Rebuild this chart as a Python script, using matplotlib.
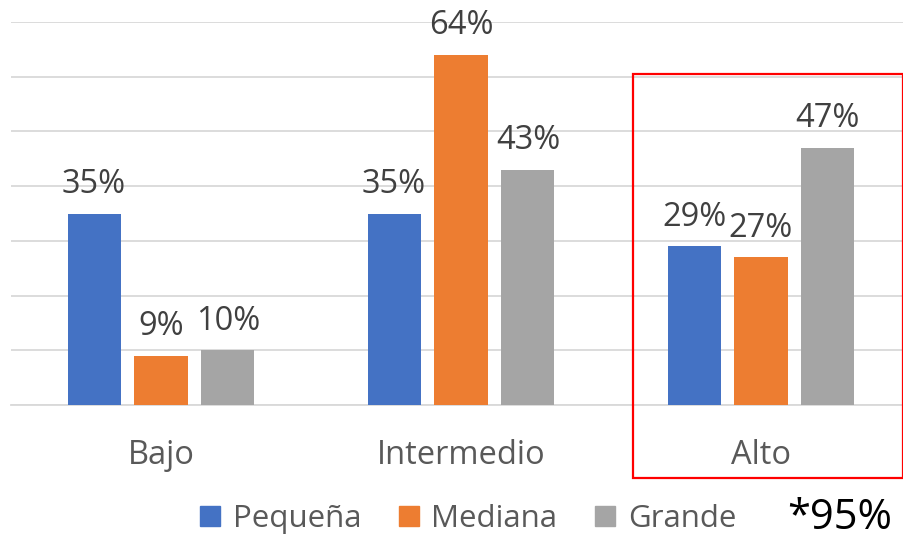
import numpy as np
import matplotlib
matplotlib.use("Agg")
import matplotlib.pyplot as plt
from matplotlib.patches import Rectangle, Patch

# datos
categorias = ["Bajo", "Intermedio", "Alto"]
series = ["Pequeña", "Mediana", "Grande"]
pequena = [35, 35, 29]
mediana = [9, 64, 27]
grande = [10, 43, 47]
colores = ["#4472C4", "#ED7D31", "#A5A5A5"]

plt.rcParams["font.family"] = ["Open Sans", "DejaVu Sans"]

W, H = 904, 540
fig = plt.figure(figsize=(W / 100, H / 100), dpi=100, facecolor="white")
# el área de trazado sobresale un poco por la derecha, como en el original
ax = fig.add_axes([11 / W, 135 / H, 900 / W, 383 / H])

x = np.arange(len(categorias))
ancho = 0.177
paso = 0.223
for i, (nombre, vals, col) in enumerate(zip(series, [pequena, mediana, grande], colores)):
    pos = x + (i - 1) * paso
    bars = ax.bar(pos, vals, ancho, color=col, zorder=3, label=nombre)
    for b, v in zip(bars, vals):
        ax.annotate(f"{v}%", (b.get_x() + b.get_width() / 2, v),
                    xytext=(0, 9), textcoords="offset points",
                    ha="center", va="bottom", fontsize=23.5, color="#404040")

ax.set_xlim(-0.5, 2.5)
ax.set_ylim(0, 70)
ax.set_yticks(np.arange(0, 71, 10))
ax.yaxis.grid(True, color="#D9D9D9", linewidth=1.3, zorder=0)
ax.tick_params(axis="y", left=False, labelleft=False)
ax.tick_params(axis="x", bottom=False, labelsize=23.5, labelcolor="#595959", pad=21)
ax.set_xticks(x)
ax.set_xticklabels(categorias)
for s in ["top", "right", "left"]:
    ax.spines[s].set_visible(False)
ax.spines["bottom"].set_color("#D9D9D9")
ax.spines["bottom"].set_linewidth(1.3)

# recuadro rojo alrededor de "Alto"
fig.patches.append(Rectangle((633 / W, 62 / H), 270 / W, 404 / H,
                             transform=fig.transFigure, fill=False,
                             edgecolor="#FF0000", linewidth=1.6))

handles = [Patch(color=c, label=s) for s, c in zip(series, colores)]
fig.legend(handles=handles, loc="center", bbox_to_anchor=(468 / W, 21 / H),
           ncol=3, frameon=False, fontsize=22.5, labelcolor="#595959",
           handlelength=0.65, handleheight=0.65, handletextpad=0.4,
           columnspacing=1.2)

fig.text(840 / W, 22 / H, "*95%", ha="center", va="center", fontsize=30,
         color="black")

fig.savefig("out.png", dpi=100, facecolor="white")
